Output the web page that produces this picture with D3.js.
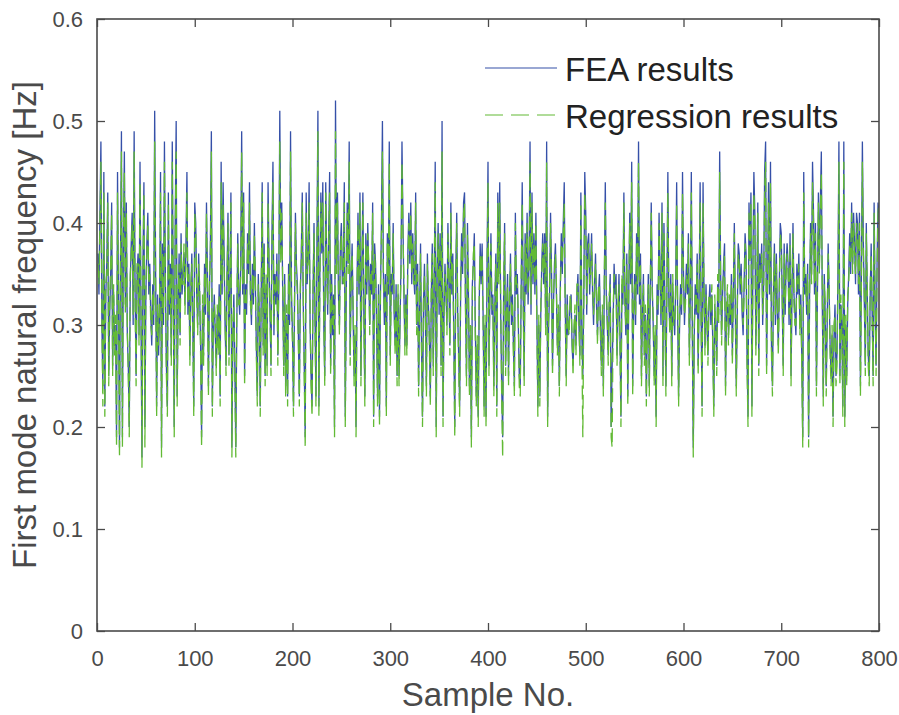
<!DOCTYPE html>
<html>
<head>
<meta charset="utf-8">
<script src="https://cdn.jsdelivr.net/npm/d3@7"></script>
<style>
  body { margin: 0; background: #fff; }
  text { font-family: "Liberation Sans", Arial, sans-serif; }
</style>
</head>
<body>
<svg id="chart" width="899" height="715"></svg>
<script>
// FEA results (sample 1..800)
var fea = [
  0.37,0.33,0.41,0.48,0.30,0.24,0.45,0.22,0.33,0.36,0.43,0.25,0.31,0.35,0.42,0.26,0.33,0.28,0.30,0.19,
  0.45,0.32,0.18,0.36,0.49,0.19,0.38,0.47,0.32,0.42,0.29,0.26,0.20,0.34,0.38,0.41,0.30,0.49,0.33,0.25,
  0.35,0.37,0.29,0.46,0.31,0.17,0.36,0.44,0.20,0.33,0.38,0.41,0.33,0.36,0.31,0.28,0.34,0.30,0.51,0.35,
  0.22,0.33,0.27,0.31,0.45,0.18,0.38,0.30,0.48,0.34,0.26,0.22,0.43,0.31,0.36,0.27,0.48,0.33,0.20,0.40,
  0.50,0.23,0.32,0.37,0.29,0.39,0.33,0.35,0.37,0.32,0.38,0.45,0.31,0.36,0.27,0.33,0.37,0.30,0.22,0.42,
  0.40,0.33,0.30,0.37,0.33,0.28,0.19,0.32,0.27,0.36,0.31,0.42,0.35,0.24,0.33,0.38,0.49,0.22,0.30,0.33,
  0.29,0.26,0.31,0.28,0.34,0.23,0.46,0.33,0.44,0.37,0.30,0.26,0.35,0.41,0.27,0.34,0.43,0.18,0.29,0.33,
  0.26,0.18,0.30,0.39,0.33,0.31,0.36,0.49,0.33,0.43,0.25,0.34,0.31,0.39,0.35,0.44,0.33,0.30,0.36,0.32,
  0.40,0.34,0.28,0.23,0.35,0.31,0.22,0.33,0.44,0.28,0.38,0.25,0.34,0.26,0.44,0.36,0.31,0.26,0.39,0.46,
  0.29,0.35,0.32,0.37,0.27,0.34,0.51,0.37,0.42,0.33,0.26,0.35,0.24,0.31,0.23,0.36,0.30,0.49,0.33,0.29,
  0.22,0.31,0.41,0.36,0.34,0.29,0.23,0.33,0.37,0.43,0.32,0.26,0.19,0.43,0.34,0.37,0.44,0.30,0.25,0.22,
  0.33,0.40,0.31,0.23,0.38,0.51,0.22,0.35,0.43,0.37,0.44,0.30,0.25,0.44,0.36,0.31,0.39,0.45,0.26,0.35,
  0.29,0.33,0.20,0.52,0.36,0.43,0.33,0.30,0.38,0.40,0.34,0.35,0.44,0.21,0.33,0.42,0.36,0.48,0.27,0.34,
  0.38,0.31,0.25,0.29,0.20,0.34,0.41,0.33,0.43,0.25,0.36,0.43,0.31,0.23,0.39,0.33,0.40,0.35,0.30,0.36,
  0.33,0.42,0.21,0.38,0.36,0.30,0.23,0.34,0.21,0.33,0.40,0.50,0.35,0.30,0.35,0.22,0.39,0.33,0.48,0.27,
  0.35,0.33,0.40,0.31,0.28,0.34,0.25,0.33,0.25,0.30,0.36,0.48,0.40,0.33,0.28,0.33,0.28,0.37,0.41,0.36,
  0.42,0.34,0.39,0.35,0.33,0.43,0.30,0.36,0.24,0.31,0.38,0.28,0.21,0.32,0.36,0.30,0.24,0.37,0.32,0.29,
  0.23,0.33,0.38,0.26,0.34,0.46,0.20,0.35,0.40,0.31,0.39,0.26,0.50,0.21,0.31,0.36,0.33,0.30,0.40,0.34,
  0.28,0.42,0.33,0.37,0.29,0.20,0.35,0.41,0.31,0.27,0.22,0.33,0.39,0.35,0.42,0.43,0.32,0.25,0.40,0.33,
  0.24,0.29,0.19,0.34,0.36,0.39,0.30,0.23,0.28,0.21,0.32,0.38,0.34,0.38,0.31,0.22,0.30,0.21,0.36,0.46,
  0.26,0.33,0.39,0.31,0.33,0.24,0.32,0.37,0.22,0.43,0.35,0.44,0.31,0.24,0.19,0.33,0.40,0.26,0.31,0.35,
  0.25,0.32,0.37,0.30,0.33,0.28,0.24,0.41,0.33,0.35,0.30,0.25,0.24,0.34,0.44,0.33,0.25,0.39,0.33,0.41,
  0.32,0.36,0.48,0.31,0.43,0.34,0.39,0.33,0.41,0.31,0.22,0.30,0.23,0.31,0.36,0.39,0.34,0.39,0.30,0.48,
  0.21,0.30,0.33,0.41,0.35,0.26,0.32,0.36,0.38,0.33,0.28,0.31,0.24,0.34,0.39,0.35,0.40,0.44,0.32,0.25,
  0.33,0.29,0.30,0.32,0.33,0.28,0.26,0.29,0.31,0.28,0.33,0.35,0.30,0.27,0.43,0.29,0.25,0.33,0.45,0.41,
  0.31,0.38,0.39,0.33,0.36,0.39,0.33,0.30,0.34,0.37,0.32,0.29,0.33,0.35,0.30,0.26,0.31,0.24,0.34,0.44,
  0.33,0.30,0.27,0.32,0.35,0.20,0.26,0.30,0.36,0.33,0.35,0.27,0.31,0.35,0.29,0.21,0.34,0.32,0.43,0.33,
  0.29,0.37,0.23,0.33,0.41,0.34,0.46,0.24,0.31,0.35,0.30,0.39,0.33,0.48,0.32,0.37,0.25,0.31,0.35,0.27,
  0.31,0.23,0.30,0.35,0.24,0.33,0.42,0.34,0.30,0.25,0.29,0.21,0.34,0.31,0.41,0.35,0.30,0.42,0.25,0.40,
  0.31,0.24,0.33,0.45,0.32,0.30,0.35,0.25,0.34,0.31,0.29,0.34,0.44,0.31,0.23,0.30,0.34,0.31,0.45,0.35,
  0.30,0.33,0.36,0.33,0.39,0.27,0.33,0.45,0.30,0.18,0.29,0.34,0.31,0.37,0.26,0.33,0.44,0.31,0.22,0.44,
  0.33,0.28,0.34,0.30,0.27,0.32,0.34,0.30,0.33,0.28,0.22,0.32,0.30,0.26,0.34,0.31,0.47,0.35,0.29,0.33,
  0.36,0.38,0.24,0.31,0.33,0.29,0.32,0.30,0.35,0.27,0.33,0.40,0.32,0.24,0.31,0.38,0.37,0.33,0.36,0.31,
  0.29,0.34,0.39,0.37,0.27,0.21,0.42,0.37,0.43,0.22,0.36,0.45,0.41,0.28,0.33,0.42,0.26,0.37,0.35,0.38,
  0.30,0.34,0.45,0.48,0.26,0.34,0.44,0.33,0.46,0.28,0.24,0.33,0.38,0.30,0.37,0.31,0.28,0.34,0.40,0.39,
  0.32,0.26,0.38,0.31,0.36,0.38,0.36,0.30,0.39,0.25,0.33,0.40,0.33,0.31,0.29,0.36,0.33,0.37,0.30,0.33,
  0.27,0.19,0.45,0.33,0.35,0.31,0.36,0.19,0.33,0.40,0.35,0.46,0.41,0.33,0.40,0.24,0.33,0.43,0.36,0.42,
  0.47,0.32,0.23,0.35,0.31,0.24,0.30,0.38,0.33,0.28,0.25,0.29,0.21,0.29,0.32,0.25,0.27,0.35,0.48,0.25,
  0.32,0.30,0.22,0.48,0.21,0.30,0.25,0.32,0.35,0.39,0.35,0.42,0.36,0.41,0.38,0.34,0.41,0.40,0.33,0.41,
  0.24,0.35,0.48,0.38,0.32,0.26,0.40,0.33,0.27,0.25,0.33,0.38,0.31,0.25,0.42,0.32,0.26,0.36,0.42,0.41
];

// Regression results
var reg = [
  0.36,0.34,0.40,0.46,0.31,0.22,0.43,0.21,0.34,0.35,0.42,0.24,0.32,0.36,0.41,0.25,0.34,0.27,0.31,0.18,
  0.43,0.33,0.17,0.35,0.47,0.18,0.39,0.45,0.31,0.41,0.30,0.25,0.19,0.35,0.37,0.40,0.31,0.47,0.32,0.24,
  0.36,0.36,0.28,0.44,0.32,0.16,0.35,0.43,0.18,0.34,0.37,0.40,0.34,0.35,0.30,0.29,0.33,0.31,0.48,0.34,
  0.21,0.32,0.28,0.32,0.43,0.17,0.37,0.31,0.46,0.33,0.25,0.21,0.42,0.32,0.35,0.26,0.46,0.34,0.19,0.39,
  0.47,0.22,0.33,0.36,0.28,0.38,0.34,0.34,0.38,0.31,0.37,0.43,0.32,0.35,0.26,0.34,0.36,0.29,0.21,0.41,
  0.39,0.34,0.29,0.36,0.34,0.27,0.18,0.33,0.26,0.35,0.32,0.41,0.34,0.23,0.34,0.37,0.47,0.21,0.31,0.32,
  0.30,0.25,0.32,0.27,0.33,0.22,0.44,0.34,0.42,0.36,0.31,0.25,0.34,0.40,0.26,0.35,0.42,0.17,0.30,0.32,
  0.25,0.17,0.31,0.38,0.32,0.32,0.35,0.47,0.34,0.42,0.24,0.33,0.32,0.38,0.36,0.42,0.32,0.31,0.35,0.33,
  0.39,0.35,0.27,0.22,0.34,0.32,0.21,0.34,0.43,0.27,0.37,0.24,0.35,0.25,0.42,0.35,0.32,0.25,0.38,0.44,
  0.30,0.34,0.33,0.36,0.26,0.35,0.48,0.36,0.41,0.34,0.25,0.34,0.23,0.32,0.22,0.35,0.31,0.47,0.32,0.28,
  0.21,0.32,0.40,0.35,0.33,0.28,0.22,0.34,0.36,0.42,0.33,0.25,0.18,0.41,0.35,0.36,0.42,0.31,0.24,0.21,
  0.34,0.39,0.30,0.22,0.37,0.49,0.21,0.34,0.42,0.38,0.42,0.31,0.24,0.43,0.35,0.32,0.38,0.43,0.25,0.34,
  0.30,0.32,0.19,0.49,0.35,0.42,0.34,0.29,0.37,0.39,0.35,0.34,0.42,0.20,0.34,0.41,0.35,0.46,0.26,0.35,
  0.37,0.32,0.24,0.30,0.19,0.33,0.40,0.34,0.42,0.24,0.35,0.42,0.32,0.22,0.38,0.34,0.39,0.36,0.29,0.35,
  0.34,0.41,0.20,0.37,0.35,0.31,0.22,0.33,0.20,0.34,0.39,0.47,0.34,0.31,0.34,0.21,0.38,0.34,0.46,0.26,
  0.34,0.34,0.39,0.32,0.27,0.33,0.24,0.34,0.24,0.31,0.35,0.46,0.39,0.34,0.27,0.32,0.27,0.36,0.40,0.37,
  0.41,0.35,0.38,0.34,0.34,0.42,0.29,0.35,0.23,0.32,0.37,0.27,0.20,0.33,0.35,0.31,0.23,0.36,0.33,0.28,
  0.22,0.34,0.37,0.25,0.35,0.44,0.19,0.34,0.39,0.32,0.38,0.25,0.47,0.20,0.32,0.35,0.34,0.29,0.39,0.35,
  0.27,0.41,0.34,0.36,0.28,0.19,0.34,0.40,0.32,0.26,0.21,0.34,0.38,0.36,0.41,0.42,0.31,0.24,0.39,0.34,
  0.23,0.30,0.18,0.33,0.37,0.38,0.29,0.22,0.29,0.20,0.33,0.37,0.35,0.37,0.30,0.21,0.31,0.20,0.35,0.44,
  0.25,0.34,0.38,0.32,0.32,0.23,0.33,0.36,0.21,0.42,0.34,0.42,0.32,0.23,0.17,0.34,0.39,0.25,0.32,0.34,
  0.24,0.33,0.36,0.31,0.32,0.27,0.23,0.40,0.34,0.34,0.31,0.24,0.23,0.35,0.42,0.32,0.24,0.38,0.34,0.40,
  0.33,0.35,0.46,0.32,0.42,0.35,0.38,0.34,0.40,0.30,0.21,0.31,0.22,0.32,0.35,0.38,0.35,0.38,0.29,0.46,
  0.20,0.31,0.34,0.40,0.34,0.25,0.33,0.35,0.37,0.34,0.27,0.32,0.23,0.33,0.38,0.36,0.39,0.42,0.31,0.24,
  0.32,0.30,0.29,0.33,0.32,0.29,0.25,0.30,0.32,0.27,0.34,0.34,0.31,0.26,0.42,0.28,0.19,0.32,0.43,0.40,
  0.32,0.37,0.38,0.34,0.35,0.38,0.34,0.31,0.33,0.36,0.33,0.28,0.34,0.34,0.29,0.25,0.32,0.23,0.35,0.42,
  0.34,0.31,0.26,0.33,0.34,0.19,0.18,0.31,0.35,0.34,0.34,0.26,0.32,0.34,0.28,0.20,0.35,0.33,0.42,0.32,
  0.30,0.36,0.22,0.34,0.40,0.35,0.44,0.23,0.32,0.34,0.31,0.38,0.34,0.46,0.33,0.36,0.24,0.32,0.34,0.26,
  0.32,0.22,0.31,0.34,0.23,0.34,0.41,0.33,0.31,0.24,0.30,0.20,0.33,0.32,0.40,0.34,0.31,0.41,0.24,0.39,
  0.32,0.23,0.34,0.43,0.33,0.29,0.34,0.24,0.35,0.30,0.30,0.33,0.42,0.32,0.22,0.31,0.33,0.32,0.43,0.34,
  0.31,0.32,0.35,0.34,0.38,0.26,0.34,0.43,0.29,0.17,0.30,0.33,0.32,0.36,0.25,0.34,0.42,0.30,0.21,0.42,
  0.34,0.27,0.33,0.31,0.26,0.33,0.33,0.31,0.34,0.27,0.21,0.33,0.29,0.25,0.35,0.30,0.45,0.34,0.28,0.34,
  0.35,0.37,0.23,0.32,0.34,0.28,0.33,0.31,0.34,0.26,0.34,0.39,0.31,0.23,0.32,0.37,0.36,0.34,0.35,0.32,
  0.30,0.33,0.38,0.36,0.26,0.20,0.41,0.36,0.42,0.21,0.35,0.43,0.40,0.27,0.34,0.41,0.25,0.36,0.34,0.37,
  0.31,0.33,0.43,0.46,0.25,0.35,0.42,0.34,0.44,0.27,0.23,0.34,0.37,0.31,0.36,0.32,0.27,0.33,0.39,0.38,
  0.33,0.25,0.37,0.32,0.35,0.37,0.35,0.31,0.38,0.24,0.34,0.39,0.32,0.30,0.30,0.35,0.34,0.36,0.29,0.32,
  0.26,0.18,0.43,0.34,0.34,0.32,0.35,0.18,0.34,0.39,0.34,0.44,0.40,0.34,0.39,0.23,0.34,0.42,0.35,0.41,
  0.45,0.33,0.22,0.34,0.32,0.23,0.31,0.37,0.34,0.27,0.24,0.30,0.20,0.30,0.31,0.24,0.26,0.34,0.46,0.24,
  0.33,0.29,0.21,0.46,0.20,0.31,0.24,0.33,0.34,0.38,0.36,0.41,0.35,0.40,0.37,0.35,0.40,0.39,0.34,0.40,
  0.23,0.34,0.46,0.37,0.33,0.25,0.39,0.34,0.26,0.24,0.34,0.37,0.32,0.24,0.41,0.33,0.25,0.35,0.41,0.42
];

var xTicks = [0, 100, 200, 300, 400, 500, 600, 700, 800];
var yTicks = [0, 0.1, 0.2, 0.3, 0.4, 0.5, 0.6];
var seriesNames = ["FEA results", "Regression results"];

var margin = {top: 19, right: 20, bottom: 84, left: 97};
var w = 879 - margin.left, h = 631 - margin.top;

var svg = d3.select("#chart");
var g = svg.append("g").attr("transform", "translate(" + margin.left + "," + margin.top + ")");

var x = d3.scaleLinear().domain([0, 800]).range([0, w]);
var y = d3.scaleLinear().domain([0, 0.6]).range([h, 0]);

var axisColor = "#4a4a4a";
var blue = "#3550a8";
var green = "#62ba35";

g.append("clipPath").attr("id", "clip")
  .append("rect").attr("width", w).attr("height", h);

var line = d3.line()
  .x(function(d, i) { return x(i + 1); })
  .y(function(d) { return y(d); });

var plot = g.append("g").attr("clip-path", "url(#clip)");
plot.append("path").datum(fea)
  .attr("d", line)
  .attr("fill", "none")
  .attr("stroke", blue)
  .attr("stroke-width", 1.3);
plot.append("path").datum(reg)
  .attr("d", line)
  .attr("fill", "none")
  .attr("stroke", green)
  .attr("stroke-width", 1.3)
  .attr("stroke-dasharray", "14,6");

// axes, MATLAB style with ticks inside on all four sides
function styleAxis(sel) {
  sel.select(".domain").remove();
  sel.selectAll(".tick line").attr("stroke", axisColor).attr("stroke-width", 1.3);
  sel.selectAll(".tick text").attr("fill", axisColor)
    .style("font-size", "22px");
}

var xAxis = g.append("g").attr("transform", "translate(0," + h + ")")
  .call(d3.axisBottom(x).tickValues(xTicks).tickSizeInner(-8).tickSizeOuter(0).tickPadding(19));
styleAxis(xAxis);
var yAxis = g.append("g")
  .call(d3.axisLeft(y).tickValues(yTicks).tickSizeInner(-8).tickSizeOuter(0).tickPadding(14)
    .tickFormat(function(d) { return d === 0 ? "0" : d3.format(".1f")(d); }));
styleAxis(yAxis);
var xTop = g.append("g")
  .call(d3.axisTop(x).tickValues(xTicks).tickSizeInner(-8).tickSizeOuter(0).tickFormat(""));
styleAxis(xTop);
var yRight = g.append("g").attr("transform", "translate(" + w + ",0)")
  .call(d3.axisRight(y).tickValues(yTicks).tickSizeInner(-8).tickSizeOuter(0).tickFormat(""));
styleAxis(yRight);

g.append("rect")
  .attr("width", w).attr("height", h)
  .attr("fill", "none")
  .attr("stroke", axisColor)
  .attr("stroke-width", 1.6);

// axis titles
svg.append("text")
  .attr("x", margin.left + w / 2).attr("y", 706)
  .attr("text-anchor", "middle")
  .attr("fill", axisColor)
  .style("font-size", "33px")
  .text("Sample No.");
svg.append("text")
  .attr("transform", "translate(36," + (margin.top + h / 2) + ") rotate(-90)")
  .attr("text-anchor", "middle")
  .attr("fill", axisColor)
  .style("font-size", "33px")
  .text("First mode natural frequency [Hz]");

// legend
var legend = svg.append("g");
var legendRows = legend.selectAll("g").data(seriesNames).enter().append("g")
  .attr("transform", function(d, i) { return "translate(485," + (68 + i * 47) + ")"; });
legendRows.append("line")
  .attr("x1", 0).attr("x2", 72).attr("y1", 0).attr("y2", 0)
  .attr("stroke", function(d, i) { return i === 0 ? blue : green; })
  .attr("stroke-width", 1.1)
  .attr("stroke-dasharray", function(d, i) { return i === 0 ? null : "18,8"; });
legendRows.append("text")
  .attr("x", 80).attr("y", 13)
  .attr("fill", "#222")
  .style("font-size", "33px")
  .text(function(d) { return d; });
</script>
</body>
</html>
